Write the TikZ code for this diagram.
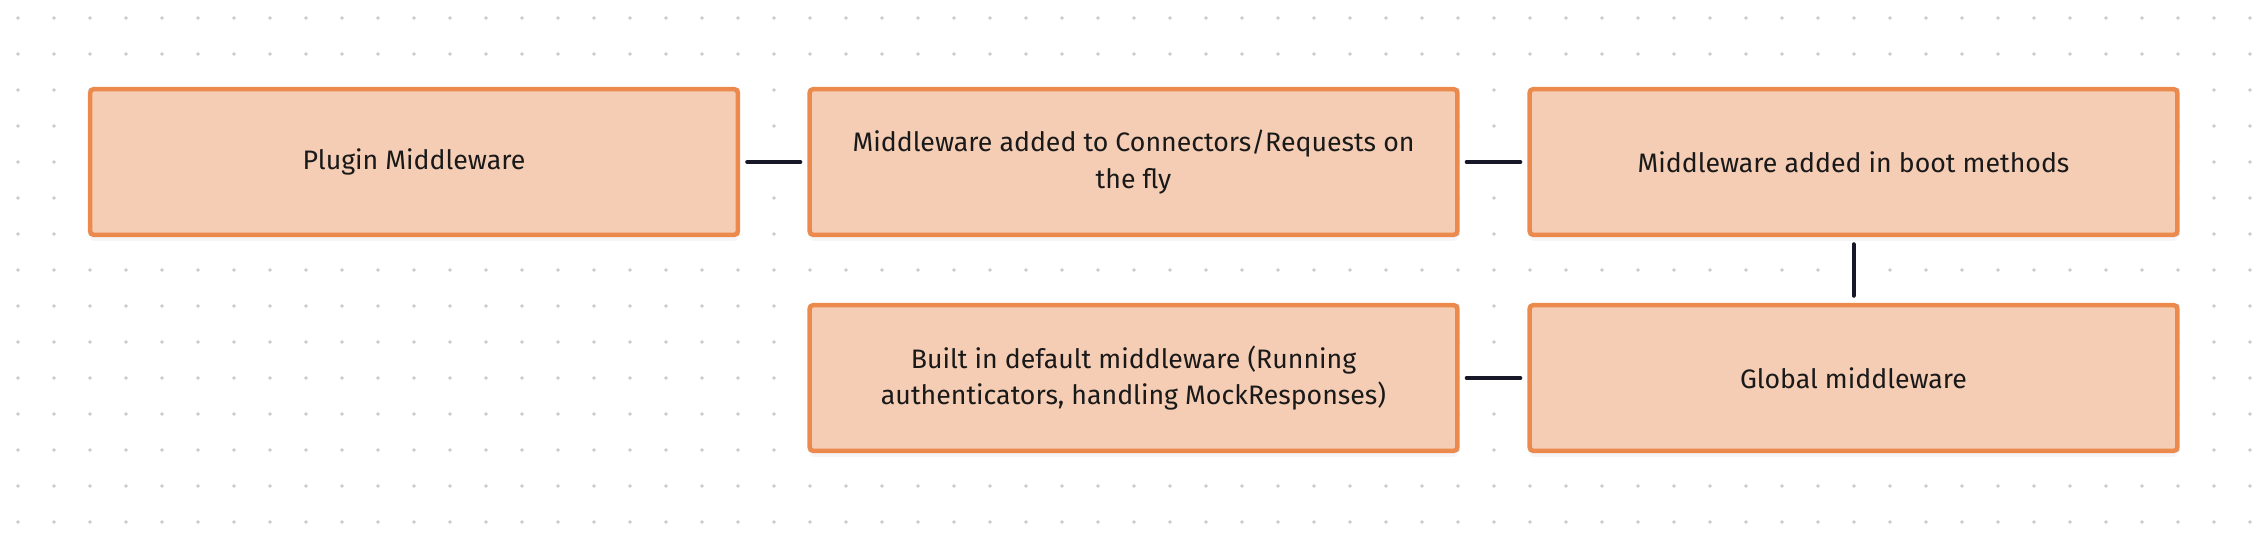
\documentclass[tikz,border=0pt]{standalone}
\usepackage{fontspec}
\setmainfont{Fira Sans}
\usepackage{tikz}
\usetikzlibrary{shadows}

\definecolor{boxfill}{HTML}{F5CDB4}
\definecolor{boxline}{HTML}{EC8A4E}
\definecolor{linkcol}{HTML}{161827}
\definecolor{dotcol}{HTML}{C8C8C8}

\tikzset{
  mwbox/.style={draw=boxline, fill=boxfill, line width=0.09cm, rounded corners=0.08cm,
    minimum width=12.96cm, minimum height=2.92cm, align=center, text=black!90,
    font=\fontsize{15.2pt}{20.8pt}\selectfont,
    drop shadow={opacity=0.08, shadow xshift=0cm, shadow yshift=-0.12cm}},
  link/.style={draw=linkcol, line width=0.08cm, line cap=round,
    shorten <=0.14cm, shorten >=0.14cm}
}

\begin{document}
\begin{tikzpicture}[x=0.02cm,y=-0.02cm]
\useasboundingbox[fill=white] (0,0) rectangle (2268,540);

% dotted canvas
\foreach \i in {0,...,62}
  \foreach \j in {0,...,14}
    \fill[dotcol] (18+36*\i,18+36*\j) circle (0.036cm);

\node[mwbox] (plugin) at (414,162) {Plugin Middleware};
\node[mwbox] (onfly) at (1133.5,162) {Middleware added to Connectors/Requests on\\the fly};
\node[mwbox] (boot) at (1853.5,162) {Middleware added in boot methods};
\node[mwbox] (global) at (1853.5,378) {Global middleware};
\node[mwbox] (builtin) at (1133.5,378) {Built in default middleware (Running\\authenticators, handling MockResponses)};

\draw[link] (plugin.east) -- (onfly.west);
\draw[link] (onfly.east) -- (boot.west);
\draw[link] (boot.south) -- (global.north);
\draw[link] (global.west) -- (builtin.east);% last step

\end{tikzpicture}
\end{document}
